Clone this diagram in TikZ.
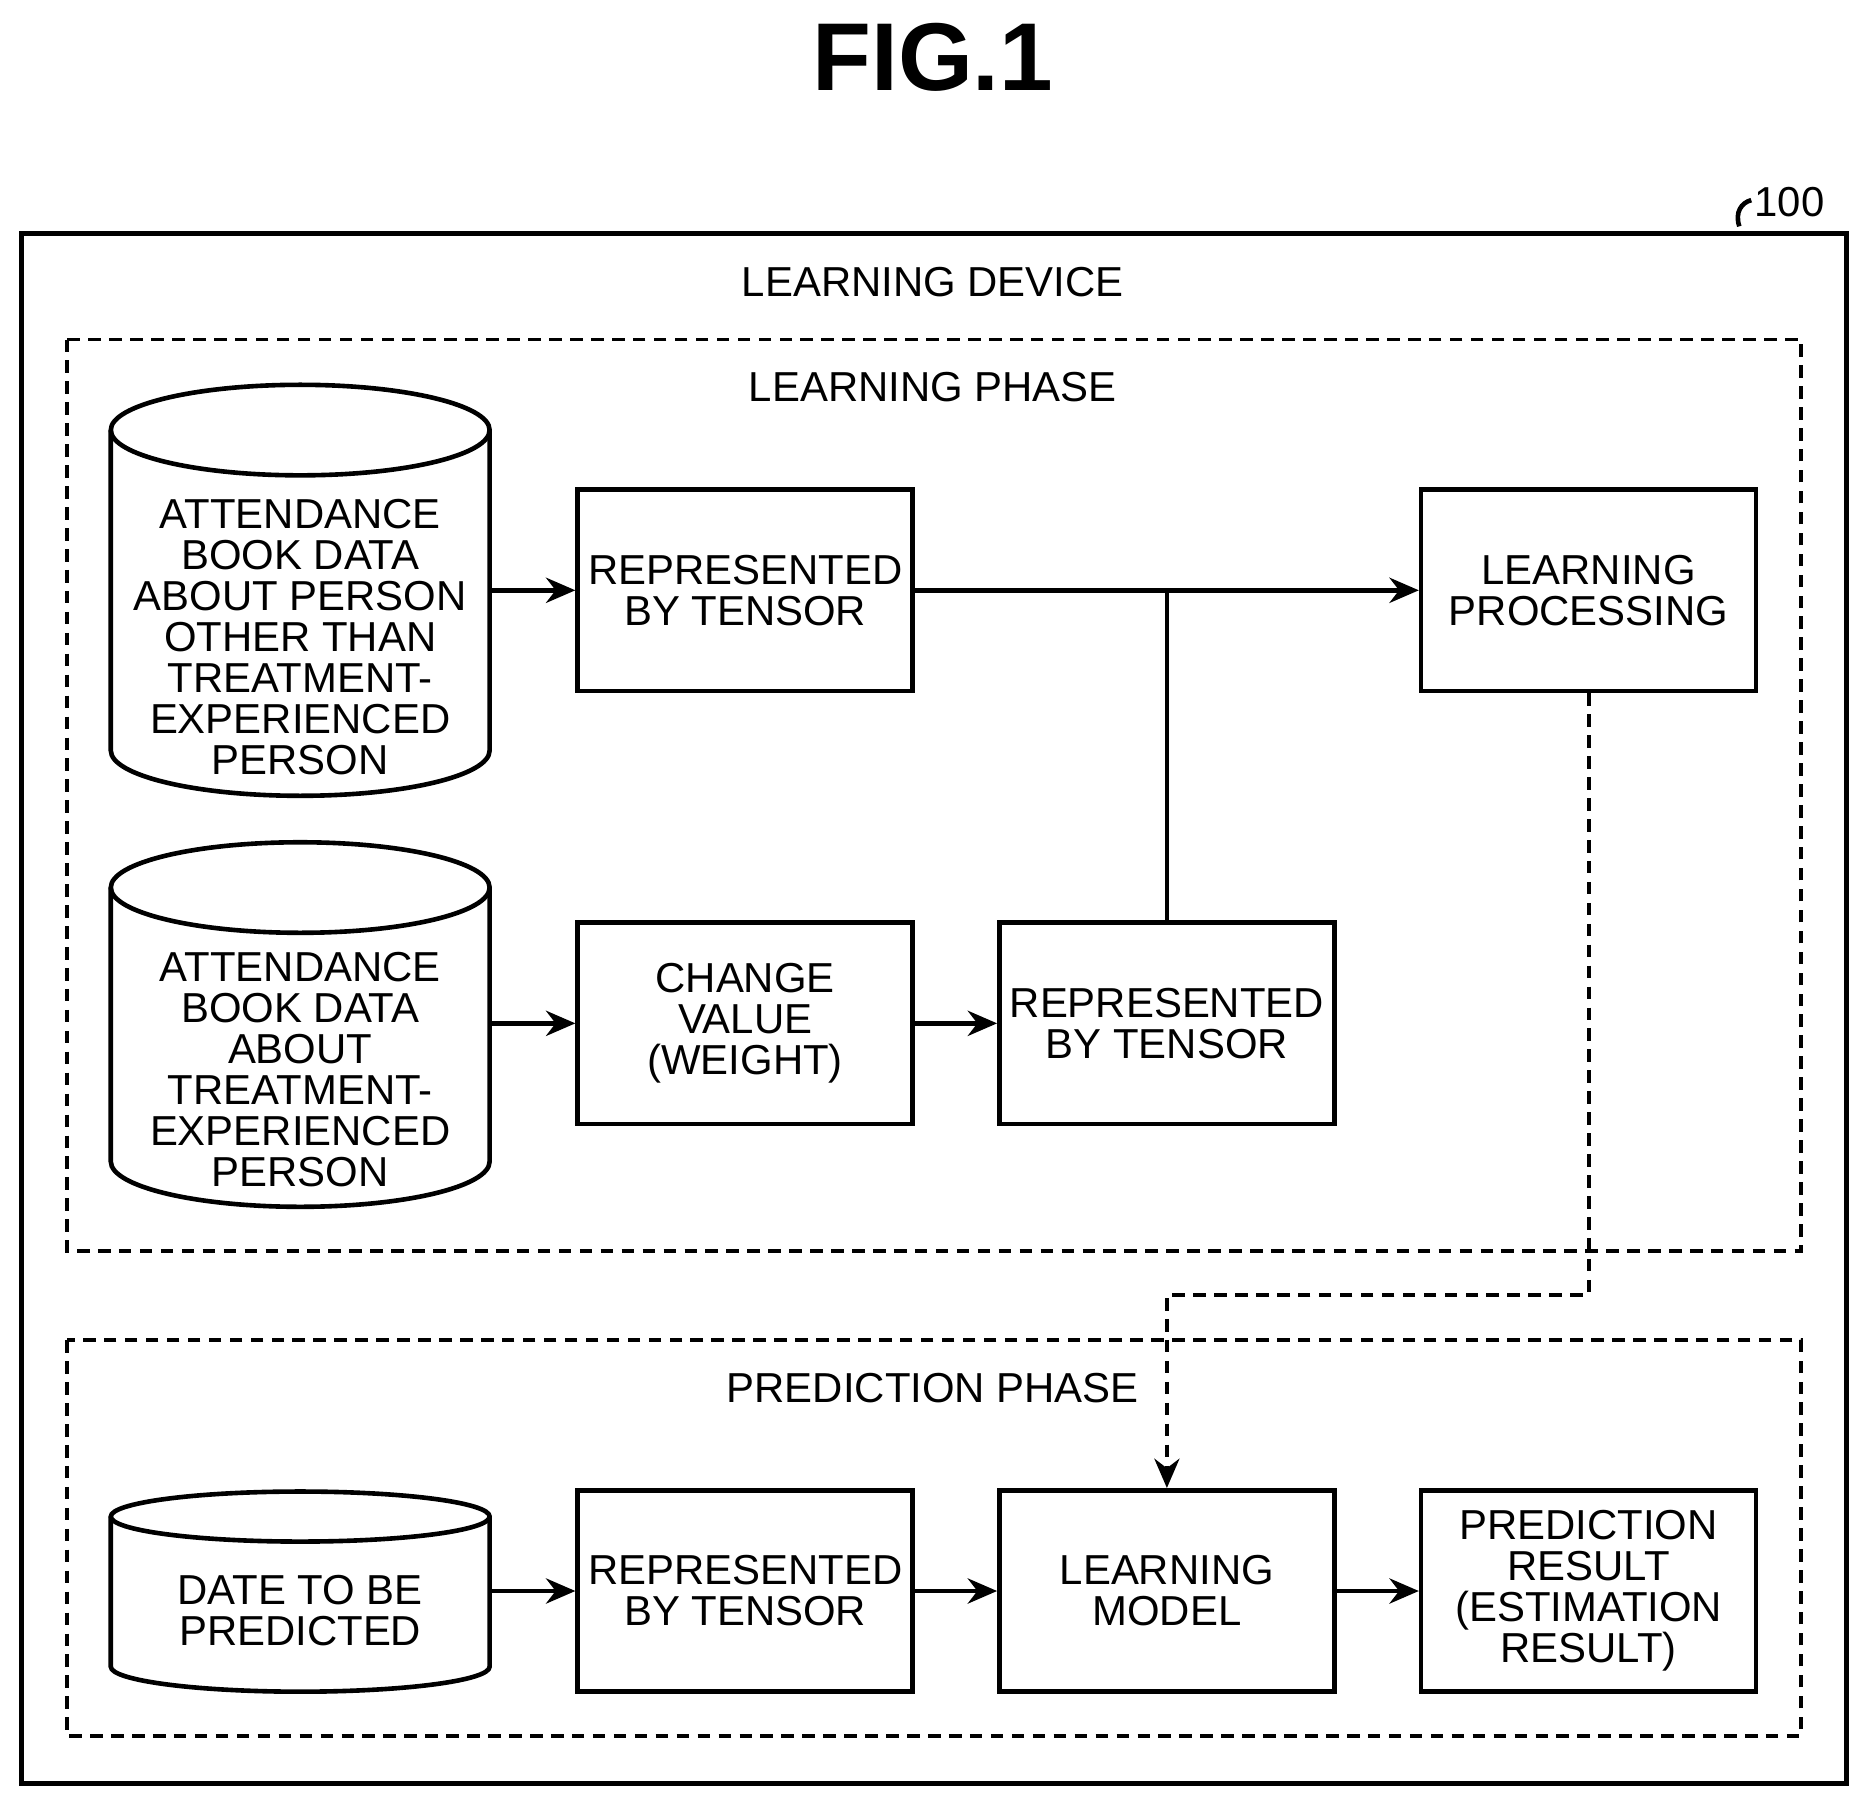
\documentclass[tikz,border=0pt]{standalone}
\usepackage{fontspec}
\setmainfont{Liberation Sans}
\usetikzlibrary{arrows.meta}
\begin{document}
\begin{tikzpicture}[x=0.01cm,y=-0.01cm,
  lw/.style={line width=1.1pt},
  box/.style={lw,draw,minimum width=2.81cm,minimum height=1.69cm,align=center,inner sep=0pt,font=\fontsize{10}{9.8}\selectfont},
  txt/.style={align=center,font=\fontsize{10}{9.8}\selectfont,inner sep=0pt},
  arr/.style={lw,-{Stealth[length=7pt,width=6pt]}},
  dsh/.style={line width=0.9pt,dash pattern=on 3pt off 2pt}]
\useasboundingbox (0,0) rectangle (1568,1515);
\node[font=\fontsize{23}{23}\selectfont\bfseries] (title) at (783,48) {FIG.1};
\draw[lw] (18,196) rectangle (1550,1497);
\node[txt,anchor=west] (n100) at (1472,170) {100};
\draw[lw] (1460,190) .. controls (1456,178) and (1462,170) .. (1470,168);
\node[txt] (ld) at (783,237) {LEARNING DEVICE};
\draw[dsh] (56,285) rectangle (1512,1050);
\node[txt] (lp) at (783,325) {LEARNING PHASE};
\draw[dsh] (56,1125) rectangle (1512,1457);
\node[txt] (pp) at (783,1165) {PREDICTION PHASE};
% cylinders
\def\cyl#1#2#3{%
 \draw[lw,fill=white] (93,#1+#3) -- (93,#2-#3) arc[start angle=180,end angle=0,x radius=159,y radius=#3] -- (411,#1+#3) arc[start angle=0,end angle=-180,x radius=159,y radius=#3] -- cycle;
 \draw[lw] (93,#1+#3) arc[start angle=180,end angle=0,x radius=159,y radius=#3];}
\cyl{323}{668}{38}
\cyl{707}{1013}{38}
\cyl{1252}{1420}{21}
\node[txt,minimum width=3.18cm] (c1) at (252,535) {ATTENDANCE\\BOOK DATA\\ABOUT PERSON\\OTHER THAN\\TREATMENT-\\EXPERIENCED\\PERSON};
\node[txt,minimum width=3.18cm] (c2) at (252,898) {ATTENDANCE\\BOOK DATA\\ABOUT\\TREATMENT-\\EXPERIENCED\\PERSON};
\node[txt,minimum width=3.18cm] (c3) at (252,1352) {DATE TO BE\\PREDICTED};
\node[box] (rt1) at (625.5,495.5) {REPRESENTED\\BY TENSOR};
\node[box] (lpr) at (1333.5,495.5) {LEARNING\\PROCESSING};
\node[box] (cv) at (625.5,859) {CHANGE\\VALUE\\(WEIGHT)};
\node[box] (rt2) at (979.5,859) {REPRESENTED\\BY TENSOR};
\node[box] (rt3) at (625.5,1335.5) {REPRESENTED\\BY TENSOR};
\node[box] (lm) at (979.5,1335.5) {LEARNING\\MODEL};
\node[box] (pr) at (1333.5,1335.5) {PREDICTION\\RESULT\\(ESTIMATION\\RESULT)};
\coordinate (j) at (979.5,495.5);
\coordinate (d1) at (1333.5,1087);
\coordinate (d2) at (979.5,1087);
\draw[arr] (c1.east |- rt1) -- (rt1.west);
\draw[arr] (rt1.east) -- (lpr.west);
\draw[lw] (rt2.north) -- (j);
\draw[arr] (c2.east |- cv) -- (cv.west);
\draw[arr] (cv.east) -- (rt2.west);
\draw[arr] (c3.east |- rt3) -- (rt3.west);
\draw[arr] (rt3.east) -- (lm.west);
\draw[arr] (lm.east) -- (pr.west);
\draw[dsh,-{Stealth[length=7pt,width=6pt]}] (lpr.south) -- (d1) -- (d2) -- (lm.north);
\end{tikzpicture}
\end{document}
